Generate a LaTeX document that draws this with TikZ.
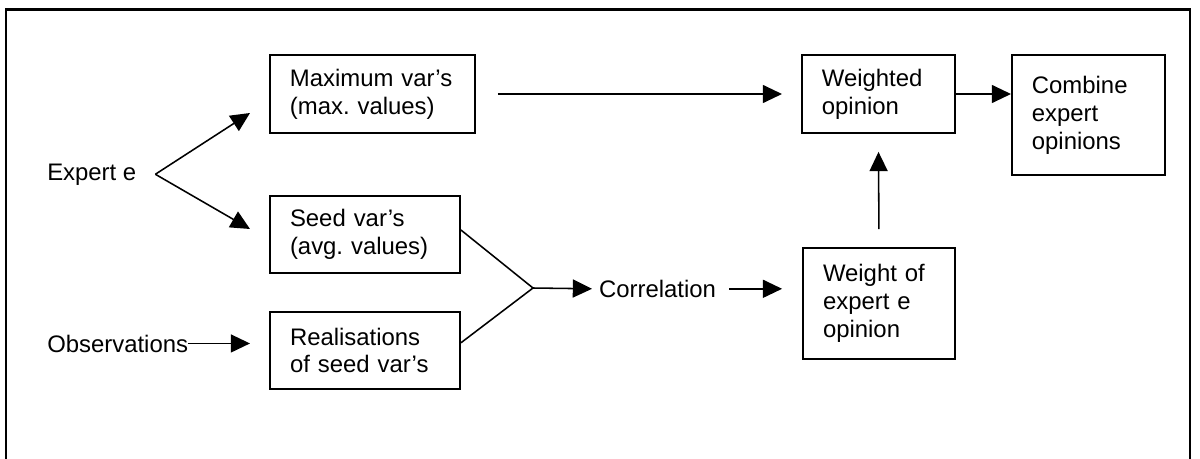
\documentclass[tikz,border=0pt]{standalone}
\usepackage{fontspec}
\setmainfont{Liberation Sans}
\usepackage{tikz}
\usetikzlibrary{arrows.meta}
\frenchspacing

\begin{document}
\begin{tikzpicture}[
    box/.style={draw, line width=1.3pt, align=left, inner xsep=0.5cm, inner ysep=0pt},
    arr/.style={line width=1.1pt, -{Triangle[length=0.48cm, width=0.45cm]}},
    lbl/.style={inner sep=0pt}
  ]
    \fontsize{17}{19.8}\selectfont
    \useasboundingbox (0, 0) rectangle (30, 11.45);

    % Outer frame
    \draw[line width=1.6pt] (0.15, -0.5) rectangle (29.75, 11.21);

    % Inputs
    \node[lbl, anchor=base west] (expert) at (1.175, 6.95) {Expert e};
    \node[lbl, anchor=base west] (obs) at (1.175, 2.65) {Observations};
    \coordinate (fork) at ([xshift=0.47cm]expert.east);

    % Variable boxes
    \node[box, text width=4.125cm, minimum height=1.95cm] (maxv) at (9.31, 9.1) {Maximum var's\\(max. values)};
    \node[box, text width=3.75cm, minimum height=1.925cm] (seed) at (9.125, 5.59) {Seed var's\\(avg. values)};
    \node[box, text width=3.75cm, minimum height=1.925cm] (real) at (9.125, 2.69) {Realisations\\of seed var's};
    \coordinate (maxin) at (6.25, 8.625);
    \coordinate (seedin) at (6.25, 5.725);

    % Correlation
    \coordinate (join) at (13.325, 4.25);
    \node[inner ysep=0pt, inner xsep=0.17cm, anchor=west] (corr) at (14.8, 4.23) {Correlation};

    % Weights and combination
    \node[box, text width=2.825cm, minimum height=1.95cm] (weighted) at (21.96, 9.1) {Weighted\\opinion};
    \node[box, text width=2.825cm, minimum height=3.0cm] (combine) at (27.21, 8.575) {Combine\\expert\\opinions};
    \node[box, text width=2.8cm, minimum height=2.775cm] (weightof) at (21.975, 3.86) {Weight of\\expert e\\opinion};

    % Connectors
    \draw[arr] (fork) -- (maxin);
    \draw[arr] (fork) -- (seedin);
    \draw[arr] (obs.east) -- (obs.east -| seedin);
    \draw[line width=1.1pt] ([yshift=0.11cm]seed.east) -- (join) -- ([yshift=0.19cm]real.east);
    \draw[arr] (join) -- (corr.west);
    \draw[arr, shorten <=0.15cm, shorten >=0.5cm] (corr.east) -- (corr.east -| weightof.west);
    \draw[arr, shorten <=0.55cm, shorten >=0.475cm] (maxv.east) -- (weighted.west);
    \draw[arr] (weighted.east) -- (combine.west |- weighted.east);
    \draw[arr, shorten <=0.45cm, shorten >=0.45cm] (weightof.north) -- (weighted.south);
\end{tikzpicture}
\end{document}
